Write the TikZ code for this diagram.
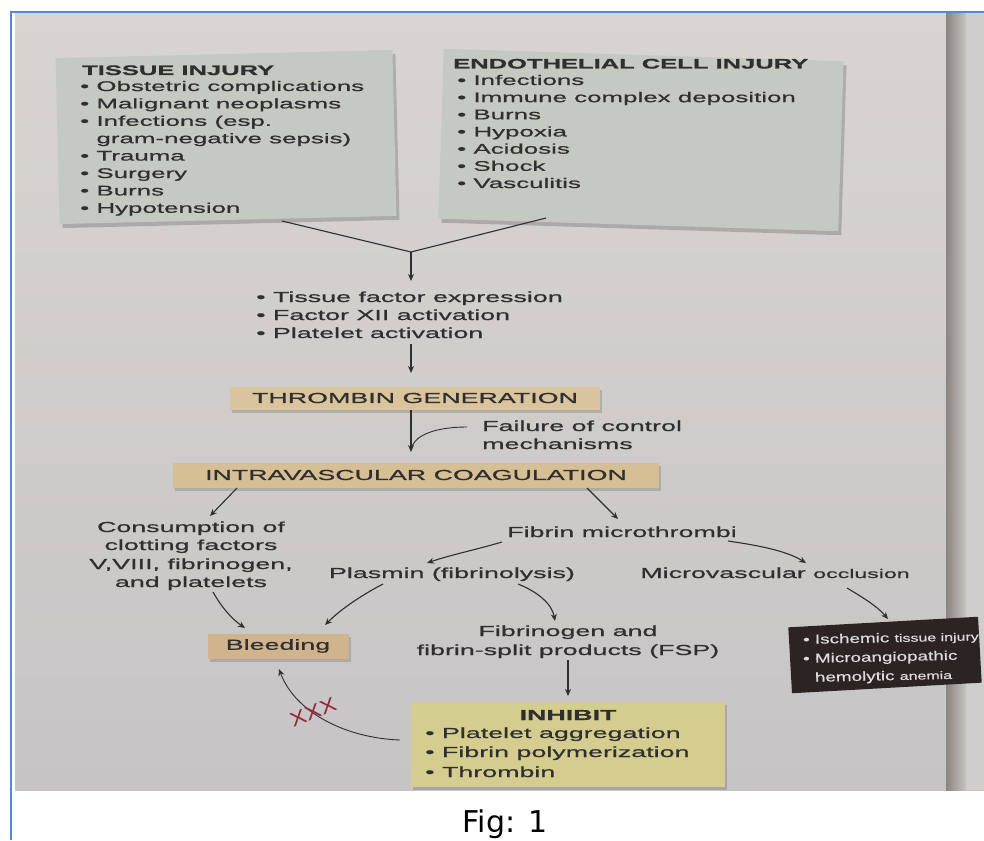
\documentclass[tikz,border=0pt]{standalone}
\usepackage{fontspec}
\setmainfont{Liberation Sans}
\newfontfamily\pf[FakeStretch=1.85,FakeBold=0.7]{Liberation Sans}
\newfontfamily\pfd[FakeStretch=1.45,FakeBold=0.5]{Liberation Sans}
\newfontfamily\pfx[FakeStretch=1.2]{Liberation Sans}
\newfontfamily\figf{DejaVu Sans}
\usetikzlibrary{arrows.meta,shadows}
\definecolor{ink}{HTML}{2F2F2F}
\definecolor{bgtop}{HTML}{D8D5D0}
\definecolor{bgbot}{HTML}{C6C4C5}
\definecolor{edgea}{HTML}{8A8580}
\definecolor{edgeb}{HTML}{C6C3C0}
\definecolor{edgec}{HTML}{D0CECD}
\definecolor{frameblue}{HTML}{4F8AD8}
\definecolor{greybox}{HTML}{C4C9C1}
\definecolor{thrc}{HTML}{DAC49E}
\definecolor{coagc}{HTML}{D7BF95}
\definecolor{bleedc}{HTML}{D0B48E}
\definecolor{inhc}{HTML}{D5CD8F}
\definecolor{darkc}{HTML}{2C2422}
\definecolor{darktx}{HTML}{DCDCDC}
\definecolor{xred}{HTML}{94283A}
\newcommand\mybul{\textbullet\ }
\begin{document}
\begin{tikzpicture}[x=1pt,y=-1pt,
  arr/.style={draw=ink, line width=1.1pt, -{Stealth[length=7pt,width=6pt]}},
  ln/.style={draw=ink, line width=1.1pt},
  tx/.style={inner sep=0pt, text=ink, font=\pf\fontsize{14.5}{17.5}\selectfont},
  tb/.style={inner sep=0pt, text=ink, font=\pf\fontsize{14}{17}\selectfont},
  tbt/.style={inner sep=0pt, text=ink, font=\pf\bfseries\fontsize{13.8}{17}\selectfont},
  gbox/.style={fill=greybox, inner sep=0pt,
    general shadow={fill=black, opacity=.18, shadow xshift=3pt, shadow yshift=-4pt}},
  tbox/.style={inner sep=0pt, text=ink, font=\pf\fontsize{14.5}{17.5}\selectfont,
    general shadow={fill=black, opacity=.15, shadow xshift=2pt, shadow yshift=-3pt}},
  dtx/.style={inner sep=0pt, text=darktx, font=\pfd\fontsize{13}{16}\selectfont, anchor=base west, rotate=1.2}
]
\useasboundingbox (0,0) rectangle (984,840);
\fill[white] (0,0) rectangle (984,840);
% photo background
\shade[top color=bgtop, bottom color=bgbot] (15,14) rectangle (984,790);
\shade[left color=edgea, right color=edgeb] (946,14) rectangle (966,790);
\fill[edgec] (966,14) rectangle (984,790);
\draw[frameblue, line width=2pt] (11,840) -- (11,12) -- (984,12);

% top boxes
\node[gbox, minimum width=337pt, minimum height=166pt, rotate=1.4] (tis) at (226,137) {};
\node[gbox, minimum width=400pt, minimum height=170pt, rotate=-1.8] (endo) at (641,140) {};

\node[tbt, anchor=base west] (tist) at (82,75) {TISSUE INJURY};
\foreach \t [count=\i] in {{\mybul Obstetric complications},{\mybul Malignant neoplasms},{\mybul Infections (esp.},{\hphantom{\mybul}gram-negative sepsis)},{\mybul Trauma},{\mybul Surgery},{\mybul Burns},{\mybul Hypotension}}
  \node[tb, anchor=base west] (ti\i) at (80,{73.6+17.4*\i}) {\t};

\node[tbt, anchor=base west] (endt) at (453,68.5) {ENDOTHELIAL CELL INJURY};
\foreach \t [count=\i] in {{\mybul Infections},{\mybul Immune complex deposition},{\mybul Burns},{\mybul Hypoxia},{\mybul Acidosis},{\mybul Shock},{\mybul Vasculitis}}
  \node[tb, anchor=base west] (en\i) at (457,{67.8+17.17*\i}) {\t};

% merge
\coordinate (v1) at (282,221);
\coordinate (v2) at (546,218);
\coordinate (vj) at (411,252);
\coordinate (va) at (411,281);
\draw[ln] (v1) -- (vj) -- (v2);
\draw[arr] (vj) -- (va);

\node[tx, anchor=base west] (m1) at (256,302) {\mybul Tissue factor expression};
\node[tx, anchor=base west] (m2) at (256,320) {\mybul Factor XII activation};
\node[tx, anchor=base west] (m3) at (256,338) {\mybul Platelet activation};

\node[tbox, fill=thrc, minimum width=370pt, minimum height=23pt] (thr) at (415,398) {THROMBIN GENERATION};
\coordinate (a1s) at (411,344);
\coordinate (a1e) at (411,373);
\draw[arr] (a1s) -- (a1e);

\node[tx, anchor=base west] (f1) at (482,431) {Failure of control};
\node[tx, anchor=base west] (f2) at (482,449) {mechanisms};

\node[tbox, fill=coagc, minimum width=486pt, minimum height=25pt] (coag) at (416,475) {INTRAVASCULAR COAGULATION};
\coordinate (a2s) at (411,410);
\coordinate (a2e) at (411,452);
\draw[arr] (a2s) -- (a2e);
\coordinate (fc) at (467,427);
\coordinate (fj) at (412,446);
\draw[ln, line width=0.9pt] (fc) .. controls (440,427) and (418,433) .. (fj);

% second level
\node[tx, anchor=base] (c1) at (191,532) {Consumption of};
\node[tx, anchor=base] (c2) at (191,550) {clotting factors};
\node[tx, anchor=base] (c3) at (191,569) {V,VIII, fibrinogen,};
\node[tx, anchor=base] (c4) at (191,587) {and platelets};
\node[tx, anchor=base] (fm) at (622,537) {Fibrin microthrombi};

\coordinate (b1s) at (237,488);
\coordinate (b1e) at (210,516);
\draw[arr] (b1s) -- (b1e);
\coordinate (b2s) at (587,488);
\coordinate (b2e) at (618,519);
\draw[arr] (b2s) -- (b2e);

\node[tx, anchor=base] (pl) at (452,578) {Plasmin (fibrinolysis)};
\node[tx, anchor=base] (mv) at (775,578) {Microvascular {\fontsize{12.5}{14}\selectfont occlusion}};

\coordinate (p1s) at (502,542);
\coordinate (p1e) at (427,563);
\draw[arr] (p1s) .. controls (475,550) and (450,555) .. (p1e);
\coordinate (p2s) at (728,541);
\coordinate (p2e) at (806,563);
\draw[arr] (p2s) .. controls (755,545) and (785,550) .. (p2e);

% third level
\node[tbox, fill=bleedc, minimum width=141pt, minimum height=25pt] (bl) at (278,646) {Bleeding};
\node[tx, anchor=base] (fs1) at (568,636) {Fibrinogen and};
\node[tx, anchor=base] (fs2) at (568,655) {fibrin-split products (FSP)};

\coordinate (q1s) at (213,592);
\coordinate (q1e) at (245,628);
\draw[arr] (q1s) .. controls (222,608) and (232,619) .. (q1e);
\coordinate (q2s) at (383,584);
\coordinate (q2e) at (325,625);
\draw[arr] (q2s) .. controls (360,596) and (340,610) .. (q2e);
\coordinate (q3s) at (518,584);
\coordinate (q3e) at (555,621);
\draw[arr] (q3s) .. controls (538,592) and (552,604) .. (q3e);
\coordinate (q4s) at (847,588);
\coordinate (q4e) at (888,619);
\draw[arr] (q4s) .. controls (862,597) and (877,606) .. (q4e);

% dark box
\node[fill=darkc, inner sep=0pt, minimum width=190pt, minimum height=66pt, rotate=3.2] (dk) at (885,655) {};
\node[dtx] (d1) at (803,644) {\mybul Ischemic {\fontsize{11}{13}\selectfont tissue injury}};
\node[dtx] (d2) at (803,663) {\mybul Microangiopathic};
\node[dtx] (d3) at (803,682) {\hphantom{\mybul}hemolytic {\fontsize{11}{13}\selectfont anemia}};

% inhibit
\node[tbox, fill=inhc, minimum width=314pt, minimum height=85pt] (inh) at (568,744.5) {};
\node[tx, font=\pf\bfseries\fontsize{14.5}{17.5}\selectfont, anchor=base] (inht) at (568,720) {INHIBIT};
\node[tx, anchor=base west] (ih1) at (425,738) {\mybul Platelet aggregation};
\node[tx, anchor=base west] (ih2) at (425,757) {\mybul Fibrin polymerization};
\node[tx, anchor=base west] (ih3) at (425,777) {\mybul Thrombin};

\coordinate (r1s) at (568,660);
\coordinate (r1e) at (568,696);
\draw[arr] (r1s) -- (r1e);

\coordinate (k1) at (400,740);
\coordinate (k2) at (279,669);
\draw[ln, line width=0.9pt, -{Stealth[length=7pt,width=6pt]}] (k1) .. controls (345,738) and (295,712) .. (k2);
\node[inner sep=0pt, text=xred, font=\pfx\fontsize{20}{20}\selectfont, rotate=22] (xx) at (313,712) {XXX};

% caption
\node[inner sep=0pt, anchor=base, font=\figf\fontsize{30}{34}\selectfont, text=black] (fig) at (505,832) {Fig: 1};
\end{tikzpicture}
\end{document}
